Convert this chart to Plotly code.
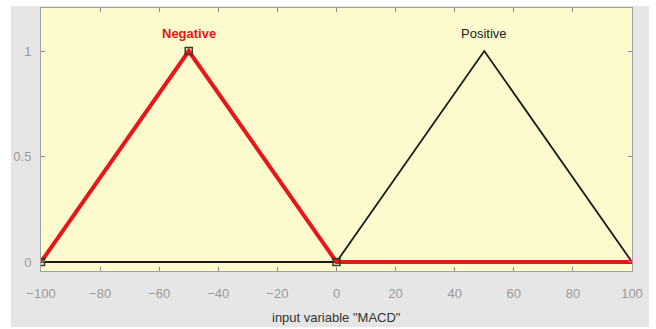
import plotly.graph_objects as go

# Membership function data
neg_x = [-100, -50, 0, 100]
neg_y = [0, 1, 0, 0]
pos_x = [-100, 0, 50, 100]
pos_y = [0, 0, 1, 0]
vert_x = [-100, -50, 0]
vert_y = [0, 1, 0]
mf_names = ["Negative", "Positive"]
label_x = [-50, 50]
label_y = [1.085, 1.085]
x_ticks = [-100, -80, -60, -40, -20, 0, 20, 40, 60, 80, 100]
y_ticks = [0, 0.5, 1]

fig = go.Figure()
fig.add_trace(go.Scatter(x=pos_x, y=pos_y, mode="lines",
                         line=dict(color="#1a1a1a", width=1.8), hoverinfo="skip"))
fig.add_trace(go.Scatter(x=neg_x, y=neg_y, mode="lines",
                         line=dict(color="#e8161b", width=4), hoverinfo="skip"))
fig.add_trace(go.Scatter(x=vert_x, y=vert_y, mode="markers",
                         marker=dict(symbol="square-open", size=7,
                                     color="#2f3f2a", line=dict(width=1.5)),
                         hoverinfo="skip"))

fig.add_annotation(x=label_x[0], y=label_y[0], text="<b>" + mf_names[0] + "</b>",
                   showarrow=False, font=dict(family="Liberation Sans", size=13, color="#e8161b"))
fig.add_annotation(x=label_x[1], y=label_y[1], text=mf_names[1],
                   showarrow=False, font=dict(family="Liberation Sans", size=13, color="#222222"))
fig.add_annotation(x=0.5, y=-0.175, xref="paper", yref="paper", yanchor="middle",
                   text='input variable "MACD"', showarrow=False,
                   font=dict(family="Liberation Sans", size=13, color="#333333"))
fig.add_annotation(x=0.5, y=1.055, xref="paper", yref="paper", yanchor="bottom",
                   text="(f)", showarrow=False,
                   font=dict(family="Liberation Serif", size=20, color="#000000"))

# gray panel background and yellow plot area
fig.add_shape(type="rect", xref="paper", yref="paper", x0=-0.0508, x1=1.0288,
              y0=-0.213, y1=1.0076, fillcolor="#e6e6e6", line=dict(width=0), layer="below")
fig.add_shape(type="rect", xref="paper", yref="paper", x0=0, x1=1,
              y0=0, y1=1, fillcolor="#fdfbcd", line=dict(width=0), layer="below")

axis_common = dict(showgrid=False, zeroline=False, showline=True, linecolor="#a0a0a0",
                   linewidth=1, mirror="allticks", ticks="inside", ticklen=4,
                   tickcolor="#8a8a8a",
                   tickfont=dict(family="Liberation Sans", size=13, color="#999999"))

fig.update_xaxes(range=[-100, 100], tickvals=x_ticks, ticklabelstandoff=10, **axis_common)
fig.update_yaxes(range=[-0.0427, 1.2038], tickvals=y_ticks, ticktext=["0", "0.5", "1"],
                 ticklabelstandoff=6, **axis_common)

fig.update_layout(width=656, height=329, margin=dict(l=41, r=24, t=8, b=58),
                  paper_bgcolor="#ffffff", plot_bgcolor="#fdfbcd", showlegend=False)

fig.write_html("out.html")
